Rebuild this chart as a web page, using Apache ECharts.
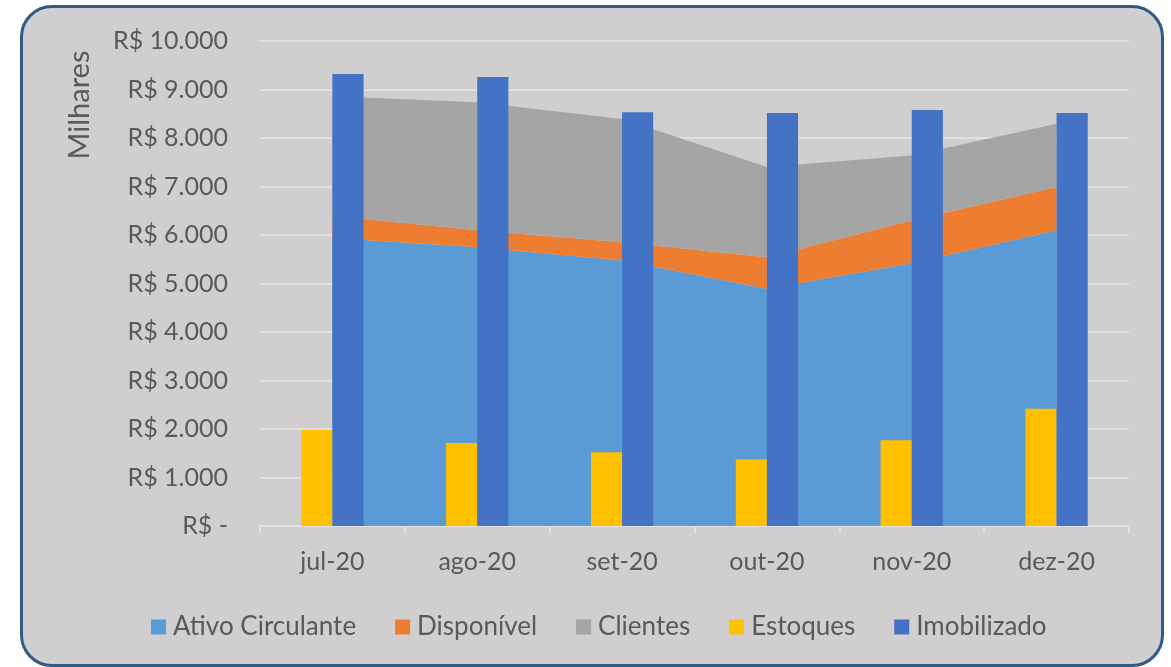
<!DOCTYPE html>
<html>
<head>
<meta charset="utf-8">
<script src="https://cdn.jsdelivr.net/npm/echarts@6/dist/echarts.min.js"></script>
<style>
  body { margin: 0; background: #ffffff; }
  #box {
    position: absolute; left: 20px; top: 5px; width: 1138px; height: 656px;
    border: 3px solid #2E5A87; border-radius: 32px; background: #D0CECE;
  }
  #chart { position: absolute; left: 0; top: 0; width: 1171px; height: 667px; }
</style>
</head>
<body>
<div id="box"></div>
<div id="chart"></div>
<script>
const months = ['jul-20', 'ago-20', 'set-20', 'out-20', 'nov-20', 'dez-20'];
const ativoCirculante = [5940, 5750, 5475, 4890, 5420, 6100];
const disponivel = [450, 350, 375, 650, 880, 890];
const clientes = [2470, 2635, 2540, 1860, 1340, 1305];
const estoques = [1980, 1710, 1520, 1370, 1770, 2420];
const imobilizado = [9320, 9260, 8530, 8515, 8577, 8515];

const textColor = '#595959';
const font = 'Lato';

function brl(v) {
  if (v === 0) return 'R$ -';
  return 'R$ ' + String(v).replace(/\B(?=(\d{3})+(?!\d))/g, '.');
}

const chart = echarts.init(document.getElementById('chart'));

const option = {
  backgroundColor: 'transparent',
  textStyle: { fontFamily: font },
  grid: { left: 260, right: 42, top: 41, bottom: 141 },
  legend: {
    data: ['Ativo Circulante', 'Disponível', 'Clientes', 'Estoques', 'Imobilizado'],
    bottom: 22,
    left: 146,
    icon: 'rect',
    itemWidth: 15,
    itemHeight: 15,
    itemGap: 39,
    textStyle: { color: textColor, fontSize: 26, fontFamily: font, padding: [0, 0, 0, 2] }
  },
  graphic: [{
    type: 'text',
    x: 80,
    y: 105,
    rotation: Math.PI / 2,
    style: {
      text: 'Milhares',
      fill: textColor,
      fontSize: 29,
      fontFamily: font,
      align: 'center',
      verticalAlign: 'middle'
    }
  }],
  xAxis: {
    type: 'category',
    data: months,
    boundaryGap: true,
    axisLine: { lineStyle: { color: '#E4E2E2', width: 2 } },
    axisTick: { show: true, length: 7, lineStyle: { color: '#E4E2E2', width: 2 } },
    axisLabel: { color: textColor, fontSize: 25, fontFamily: font, margin: 23 }
  },
  yAxis: {
    type: 'value',
    min: 0,
    max: 10000,
    interval: 1000,
    axisLine: { show: false },
    axisTick: { show: false },
    axisLabel: { color: textColor, fontSize: 25, fontFamily: font, margin: 32, formatter: brl },
    splitLine: { lineStyle: { color: '#E2E0E0', width: 2 } }
  },
  series: [
    {
      name: 'Ativo Circulante',
      type: 'line',
      stack: 'ativo',
      data: ativoCirculante,
      symbol: 'none',
      lineStyle: { width: 0 },
      areaStyle: { color: '#5B9BD5', opacity: 1 },
      itemStyle: { color: '#5B9BD5' }
    },
    {
      name: 'Disponível',
      type: 'line',
      stack: 'ativo',
      data: disponivel,
      symbol: 'none',
      lineStyle: { width: 0 },
      areaStyle: { color: '#ED7D31', opacity: 1 },
      itemStyle: { color: '#ED7D31' }
    },
    {
      name: 'Clientes',
      type: 'line',
      stack: 'ativo',
      data: clientes,
      symbol: 'none',
      lineStyle: { width: 0 },
      areaStyle: { color: '#A5A5A5', opacity: 1 },
      itemStyle: { color: '#A5A5A5' }
    },
    {
      name: 'Estoques',
      type: 'bar',
      data: estoques,
      barGap: 0,
      barCategoryGap: '57%',
      itemStyle: { color: '#FFC000' },
      z: 3
    },
    {
      name: 'Imobilizado',
      type: 'bar',
      data: imobilizado,
      barGap: 0,
      barCategoryGap: '57%',
      itemStyle: { color: '#4472C4' },
      z: 3
    }
  ]
};

chart.setOption(option);
</script>
</body>
</html>
